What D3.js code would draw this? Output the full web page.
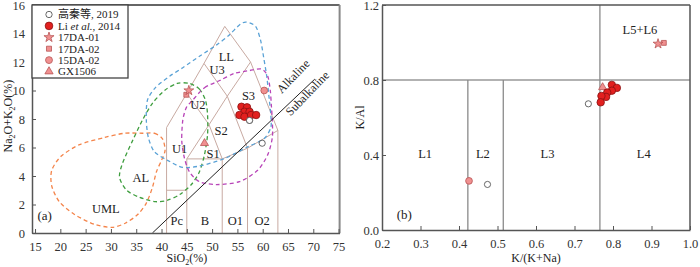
<!DOCTYPE html>
<html>
<head>
<meta charset="utf-8">
<script src="https://cdn.jsdelivr.net/npm/d3@7"></script>
<style>
  body { margin: 0; background: #fff; }
  text { font-family: "Liberation Serif", "Times New Roman", "Noto Sans CJK SC", serif; fill: #222; }
</style>
</head>
<body>
<svg width="700" height="267"></svg>
<script>
// ---- panel (a) data: SiO2 vs Na2O+K2O ----
var xTicksA = [15, 20, 25, 30, 35, 40, 45, 50, 55, 60, 65, 70, 75];
var yTicksA = [0, 2, 4, 6, 8, 10, 12, 14, 16];

// TAS field boundaries (SiO2, alkali), as drawn in the figure
var tasLines = [
  [[41,0],[41,7.4],[45,9.8],[48.4,11.9],[52.5,14.5],[57.6,12.0],[63,7.2],[63,0]],
  [[41,3],[45,3]],
  [[45,0],[45,5.2],[49.4,7.6],[53,9.6],[57.6,12.0]],
  [[45,9.8],[49.4,7.6],[52,5.2]],
  [[48.4,11.9],[53,9.6],[57,5.95],[63,7.2]],
  [[45,5.2],[52,5.2],[57,5.95]],
  [[52,0],[52,5.2]],
  [[57,0],[57,5.95]]
];
var alkLine = [[38.2,0],[70.3,10.8]];

var tasLabels = [
  {t:"LL", x:52.8, y:12.4}, {t:"U3", x:51.0, y:11.5}, {t:"U2", x:47.2, y:9.0},
  {t:"S3", x:57.2, y:9.65}, {t:"S2", x:51.8, y:7.2}, {t:"U1", x:43.6, y:5.9},
  {t:"S1", x:50.2, y:5.6}, {t:"Pc", x:43.0, y:0.9}, {t:"B", x:48.6, y:0.9},
  {t:"O1", x:54.6, y:0.9}, {t:"O2", x:59.9, y:0.9},
  {t:"AL", x:35.9, y:3.9}, {t:"UML", x:29.0, y:1.7}
];

// dashed fields
var umlField = [[36.2,7.0],[38.6,7.0],[40.2,6.6],[40.7,5.8],[40.0,5.1],[39.0,4.3],[38.2,3.2],[37.0,2.1],[35.3,1.3],[32.9,0.7],[30.3,0.4],[26.8,0.6],[22.8,1.3],[19.8,2.2],[18.3,3.3],[18.3,4.4],[20.2,5.4],[23.8,6.2],[28.7,6.7],[32.7,7.0]];
var alField = [[45.5,10.5],[47.5,10.1],[48.7,9.3],[49.1,8.3],[49.1,6.9],[48.5,5.5],[47.5,4.3],[45.9,3.4],[43.6,2.7],[41.2,2.3],[38.8,2.2],[35.7,2.5],[33.1,3.0],[31.7,3.9],[32.3,4.9],[34.3,6.5],[36.2,7.9],[38.2,9.1],[40.6,10.0],[43.1,10.5]];
var llField = [[56.7,14.8],[58.6,14.5],[59.6,13.5],[60.2,12.3],[60.8,11.0],[61.2,9.7],[61.6,8.3],[61.6,7.4],[60.2,6.6],[56.8,6.0],[52.3,5.2],[47.5,4.7],[44.2,4.6],[41.2,5.1],[38.6,5.7],[37.4,6.7],[37.0,7.9],[37.2,9.3],[38.8,10.2],[41.6,11.0],[44.2,11.6],[47.5,12.4],[50.9,13.2],[53.4,13.9],[55.4,14.6]];
var calField = [[46.1,9.3],[48.5,10.2],[51.5,10.7],[54.4,11.2],[57.4,11.4],[59.8,11.5],[61.0,11.0],[61.5,10.0],[61.7,9.0],[61.9,7.9],[61.9,6.7],[61.0,5.5],[59.0,4.4],[55.4,3.6],[50.9,3.4],[47.5,3.6],[45.5,4.3],[44.5,5.3],[44.0,6.5],[44.2,7.9],[44.9,8.8]];

var gaoA = [[57.4,7.9],[59.9,6.3]];
var liA = [[55.8,8.86],[56.9,8.82],[56.4,8.51],[57.4,8.51],[55.4,8.28],[56.4,8.16],[57.7,8.28],[58.7,8.28]];
var da01A = [[45.4,10.0]];
var da02A = [[44.9,9.7]];
var da1502A = [[60.3,10.0]];
var gxA = [[48.5,6.3]];

// ---- panel (b) data: K/(K+Na) vs K/Al ----
var xTicksB = [0.2, 0.3, 0.4, 0.5, 0.6, 0.7, 0.8, 0.9, 1.0];
var yTicksB = [0.0, 0.4, 0.8, 1.2];
var bVLines = [[0.423, 0, 0.8], [0.515, 0, 0.8], [0.766, 0, 1.2]];
var bHLine = 0.8;
var bLabels = [
  {t:"L1", x:0.312, y:0.41}, {t:"L2", x:0.462, y:0.41}, {t:"L3", x:0.63, y:0.41},
  {t:"L4", x:0.88, y:0.41}, {t:"L5+L6", x:0.87, y:1.067}
];
var gaoB = [[0.736,0.673],[0.474,0.243]];
var liB = [[0.797,0.774],[0.810,0.758],[0.797,0.743],[0.785,0.733],[0.782,0.710],[0.770,0.715],[0.768,0.681]];
var da01B = [[0.917,0.993]];
var da02B = [[0.932,0.998]];
var da1502B = [[0.426,0.262]];
var gxB = [[0.773,0.761]];

var legendItems = ["gao", "li", "da01", "da02", "da1502", "gx"];
var legendNames = {gao: "高秦等, 2019", da01: "17DA-01", da02: "17DA-02", da1502: "15DA-02", gx: "GX1506"};

var svg = d3.select("svg");
svg.append("rect").attr("width", 700).attr("height", 267).attr("fill", "#fff");

var styles = {
  gao:    {sym: d3.symbolCircle,   size: 30, fill: "#fff",    stroke: "#444"},
  li:     {sym: d3.symbolCircle,   size: 44, fill: "#e2201f", stroke: "#8a1212"},
  da01:   {sym: d3.symbolStar,     size: 30, fill: "#f09090", stroke: "#b85555"},
  da02:   {sym: d3.symbolSquare,   size: 24, fill: "#f09090", stroke: "#b85555"},
  da1502: {sym: d3.symbolCircle,   size: 36, fill: "#f09090", stroke: "#b85555"},
  gx:     {sym: d3.symbolTriangle, size: 28, fill: "#f09090", stroke: "#b85555"}
};

function drawPoints(g, pts, key, x, y) {
  var s = styles[key];
  g.selectAll(null).data(pts).enter().append("path")
    .attr("d", d3.symbol().type(s.sym).size(s.size))
    .attr("transform", function(d) { return "translate(" + x(d[0]) + "," + y(d[1]) + ")"; })
    .attr("fill", s.fill).attr("stroke", s.stroke).attr("stroke-width", 0.8);
}

function styleAxis(g) {
  g.select(".domain").attr("stroke", "#555").attr("stroke-width", 1.5);
  g.selectAll(".tick line").attr("stroke", "#555");
  g.selectAll("text").style("font-family", "'Liberation Serif', serif").style("font-size", "12.5px").style("fill", "#333");
}

// ================= panel (a) =================
var xA = d3.scaleLinear().domain([14.4, 75.2]).range([32, 339.6]);
var yA = d3.scaleLinear().domain([0, 16]).range([233, 5]);
var gA = svg.append("g");

var line = d3.line().x(function(d) { return xA(d[0]); }).y(function(d) { return yA(d[1]); });

gA.selectAll(".tas").data(tasLines).enter().append("path")
  .attr("d", line).attr("fill", "none").attr("stroke", "#c8aaa2").attr("stroke-width", 1);

var fieldLine = d3.line().curve(d3.curveCardinalClosed.tension(0.2))
  .x(function(d) { return xA(d[0]); }).y(function(d) { return yA(d[1]); });

var fields = [
  {pts: umlField, c: "#f4844a"},
  {pts: alField, c: "#3f9e3f"},
  {pts: llField, c: "#5aa2d6"},
  {pts: calField, c: "#b844b8"}
];
gA.selectAll(".field").data(fields).enter().append("path")
  .attr("d", function(d) { return fieldLine(d.pts); })
  .attr("fill", "none").attr("stroke", function(d) { return d.c; })
  .attr("stroke-width", 1.3).attr("stroke-dasharray", "4,3");

gA.append("path").datum(alkLine).attr("d", line)
  .attr("stroke", "#222").attr("stroke-width", 1).attr("fill", "none");

gA.append("text").attr("transform", "translate(" + xA(66.6) + "," + yA(10.8) + ") rotate(-46)")
  .attr("text-anchor", "middle").attr("font-size", 12).text("Alkaline");
gA.append("text").attr("transform", "translate(" + xA(69.4) + "," + yA(9.6) + ") rotate(-46)")
  .attr("text-anchor", "middle").attr("font-size", 12).text("Subalkaline");

gA.selectAll(".lab").data(tasLabels).enter().append("text")
  .attr("x", function(d) { return xA(d.x); }).attr("y", function(d) { return yA(d.y); })
  .attr("text-anchor", "middle").attr("dy", "0.35em").attr("font-size", 12.5)
  .text(function(d) { return d.t; });

drawPoints(gA, gaoA, "gao", xA, yA);
drawPoints(gA, gxA, "gx", xA, yA);
drawPoints(gA, da02A, "da02", xA, yA);
drawPoints(gA, da01A, "da01", xA, yA);
drawPoints(gA, da1502A, "da1502", xA, yA);
drawPoints(gA, liA, "li", xA, yA);
drawPoints(gA, [gaoA[0]], "gao", xA, yA);

// axes frame (a)
var x0 = xA.range()[0], x1 = xA.range()[1], y0 = yA.range()[0], y1 = yA.range()[1];
gA.append("line").attr("x1", x0).attr("x2", x1).attr("y1", y1).attr("y2", y1).attr("stroke", "#333").attr("stroke-width", 1.3);
gA.append("line").attr("x1", x1).attr("x2", x1).attr("y1", y1).attr("y2", y0).attr("stroke", "#888").attr("stroke-width", 2);

gA.append("g").attr("transform", "translate(0," + y0 + ")")
  .call(d3.axisBottom(xA).tickValues(xTicksA).tickSize(-4).tickPadding(9).tickSizeOuter(0))
  .call(styleAxis);
gA.append("g").attr("transform", "translate(" + x0 + ",0)")
  .call(d3.axisLeft(yA).tickValues(yTicksA).tickSize(-4).tickPadding(7).tickSizeOuter(0))
  .call(styleAxis);

// axis titles (a)
var xt = gA.append("text").attr("x", xA(45)).attr("y", 262)
  .attr("text-anchor", "middle").attr("font-size", 12);
xt.append("tspan").text("SiO");
xt.append("tspan").attr("font-size", 8).attr("dy", 3).text("2");
xt.append("tspan").attr("dy", -3).text("(%)");

var yt = gA.append("text").attr("transform", "translate(12," + yA(8.2) + ") rotate(-90)")
  .attr("text-anchor", "middle").attr("font-size", 12);
yt.append("tspan").text("Na");
yt.append("tspan").attr("font-size", 8).attr("dy", 3).text("2");
yt.append("tspan").attr("dy", -3).text("O+K");
yt.append("tspan").attr("font-size", 8).attr("dy", 3).text("2");
yt.append("tspan").attr("dy", -3).text("O(%)");

gA.append("text").attr("x", xA(16.9)).attr("y", yA(0.9)).attr("font-size", 13).attr("text-anchor", "middle").text("(a)");

// legend
var lg = gA.append("g");
lg.append("rect").attr("x", x0).attr("y", y1).attr("width", 96).attr("height", 73)
  .attr("fill", "#fff").attr("stroke", "#444").attr("stroke-width", 1.3);
legendItems.forEach(function(k, i) {
  var yy = y1 + 9.5 + i * 11.4;
  var s = styles[k];
  lg.append("path").attr("d", d3.symbol().type(s.sym).size(s.size * 1.05))
    .attr("transform", "translate(" + (x0 + 17) + "," + yy + ")")
    .attr("fill", s.fill).attr("stroke", s.stroke).attr("stroke-width", 0.8);
  var t = lg.append("text").attr("x", x0 + 26).attr("y", yy).attr("dy", "0.35em").attr("font-size", 11);
  if (k === "li") {
    t.append("tspan").text("Li ");
    t.append("tspan").attr("font-style", "italic").text("et al.");
    t.append("tspan").text(", 2014");
  } else {
    t.text(legendNames[k]);
  }
});

// ================= panel (b) =================
var xB = d3.scaleLinear().domain([0.2, 1.0]).range([382, 690]);
var yB = d3.scaleLinear().domain([0, 1.2]).range([230, 5]);
var gB = svg.append("g");

gB.append("line").attr("x1", xB(0.2)).attr("x2", xB(1.0)).attr("y1", yB(bHLine)).attr("y2", yB(bHLine))
  .attr("stroke", "#666").attr("stroke-width", 1.2);
gB.selectAll(".vl").data(bVLines).enter().append("line")
  .attr("x1", function(d) { return xB(d[0]); }).attr("x2", function(d) { return xB(d[0]); })
  .attr("y1", function(d) { return yB(d[1]); }).attr("y2", function(d) { return yB(d[2]); })
  .attr("stroke", "#8a8a8a").attr("stroke-width", 1.3);

gB.selectAll(".lab").data(bLabels).enter().append("text")
  .attr("x", function(d) { return xB(d.x); }).attr("y", function(d) { return yB(d.y); })
  .attr("text-anchor", "middle").attr("dy", "0.35em").attr("font-size", 12.5)
  .text(function(d) { return d.t; });

drawPoints(gB, gaoB, "gao", xB, yB);
drawPoints(gB, gxB, "gx", xB, yB);
drawPoints(gB, da1502B, "da1502", xB, yB);
drawPoints(gB, liB, "li", xB, yB);
drawPoints(gB, da02B, "da02", xB, yB);
drawPoints(gB, da01B, "da01", xB, yB);

var bx0 = xB.range()[0], bx1 = xB.range()[1], by0 = yB.range()[0], by1 = yB.range()[1];
gB.append("line").attr("x1", bx0).attr("x2", bx1).attr("y1", by1).attr("y2", by1).attr("stroke", "#555").attr("stroke-width", 1.5);
gB.append("line").attr("x1", bx1).attr("x2", bx1).attr("y1", by1).attr("y2", by0).attr("stroke", "#555").attr("stroke-width", 1.5);

gB.append("g").attr("transform", "translate(0," + by0 + ")")
  .call(d3.axisBottom(xB).tickValues(xTicksB).tickFormat(d3.format(".1f")).tickSize(-4).tickPadding(9).tickSizeOuter(0))
  .call(styleAxis);
gB.append("g").attr("transform", "translate(" + bx0 + ",0)")
  .call(d3.axisLeft(yB).tickValues(yTicksB).tickFormat(d3.format(".1f")).tickSize(-4).tickPadding(3).tickSizeOuter(0))
  .call(styleAxis);

gB.append("text").attr("x", xB(0.6)).attr("y", 262).attr("text-anchor", "middle").attr("font-size", 12).text("K/(K+Na)");
gB.append("text").attr("transform", "translate(364," + yB(0.6) + ") rotate(-90)")
  .attr("text-anchor", "middle").attr("font-size", 12).text("K/Al");
gB.append("text").attr("x", xB(0.258)).attr("y", yB(0.06)).attr("font-size", 13).attr("text-anchor", "middle").text("(b)");
</script>
</body>
</html>
